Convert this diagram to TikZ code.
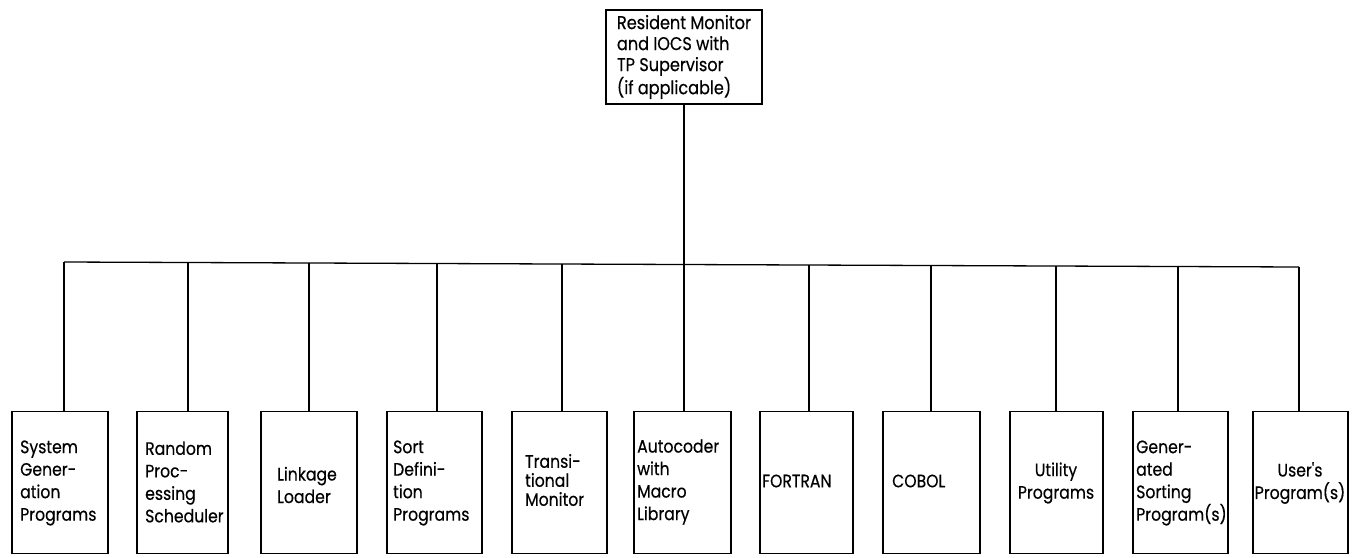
\documentclass[tikz,border=0pt]{standalone}
\usepackage{fontspec}
\setmainfont{Poppins}[FakeStretch=0.87, FakeBold=0.4]
\newfontfamily\plainq{Poppins}[FakeStretch=0.87, FakeBold=0.4, Ligatures=TeXOff]
\begin{document}
\begin{tikzpicture}[x=1pt,y=-1pt,
  box/.style={draw, line width=1.8pt, minimum height=142pt, inner sep=0pt},
  topbox/.style={draw, line width=1.8pt, minimum width=156pt, minimum height=94pt, inner sep=0pt, align=left, font=\fontsize{18.5}{21}\selectfont},
  lbl/.style={inner sep=0pt, align=left, anchor=west, font=\fontsize{18}{22.5}\selectfont},
  clbl/.style={inner sep=0pt, align=center, font=\fontsize{18}{22.5}\selectfont},
  conn/.style={line width=1.3pt}]
\fill[white] (0,0) rectangle (1356,557);
\useasboundingbox (0,0) rectangle (1356,557);

% top node
\node[topbox] (top) at (684,57) {Resident Monitor\\and IOCS with\\TP Supervisor\\(if applicable)};

% bottom boxes
\node[box, minimum width=96pt] (b1) at (60,482.5) {};
\node[box, minimum width=91pt] (b2) at (182.5,482.5) {};
\node[box, minimum width=96pt] (b3) at (309,482.5) {};
\node[box, minimum width=95pt] (b4) at (434.5,482.5) {};
\node[box, minimum width=95pt] (b5) at (559.5,482.5) {};
\node[box, minimum width=97pt] (b6) at (682.5,482.5) {};
\node[box, minimum width=93pt] (b7) at (806.5,482.5) {};
\node[box, minimum width=97pt] (b8) at (931.5,482.5) {};
\node[box, minimum width=93pt] (b9) at (1056.5,482.5) {};
\node[box, minimum width=95pt] (b10) at (1180.5,482.5) {};
\node[box, minimum width=95pt] (b11) at (1300.5,482.5) {};

% labels
\node[lbl] (t1) at (20,483) {System\\Gener-\\ation\\Programs};
\node[lbl] (t2) at (145,482) {Random\\Proc-\\essing\\Scheduler};
\node[lbl] (t3) at (277,485) {Linkage\\Loader};
\node[lbl] (t4) at (393,483) {Sort\\Defini-\\tion\\Programs};
\node[lbl, font=\fontsize{18}{19}\selectfont] (t5) at (525,480) {Transi-\\tional\\Monitor};
\node[lbl] (t6) at (637,482) {Autocoder\\with\\Macro\\Library};
\node[lbl] (t7) at (762,481) {FORTRAN};
\node[lbl] (t8) at (892,481) {COBOL};
\node[clbl] (t9) at (1056,483) {Utility\\Programs};
\node[lbl] (t10) at (1136,483) {Gener-\\ated\\Sorting\\Program(s)};
\node[clbl] (t11) at (1300,483) {User{\plainq'}s\\Program(s)};

% bus coordinates
\coordinate (d1) at (64,262);
\coordinate (d2) at (188,262.5);
\coordinate (d3) at (309,263);
\coordinate (d4) at (437,263.5);
\coordinate (d5) at (562,264);
\coordinate (d6) at (684,264.5);
\coordinate (d7) at (809,265);
\coordinate (d8) at (931,265.5);
\coordinate (d9) at (1056,266);
\coordinate (d10) at (1178,266.5);
\coordinate (d11) at (1299,267);

% connectors
\draw[conn] (top.south) -- (d6);
\draw[conn] (d1) -- (d11);
\foreach \i in {1,...,11}{
  \draw[conn] (d\i) -- (d\i |- b\i.north);
}
\end{tikzpicture}
\end{document}
